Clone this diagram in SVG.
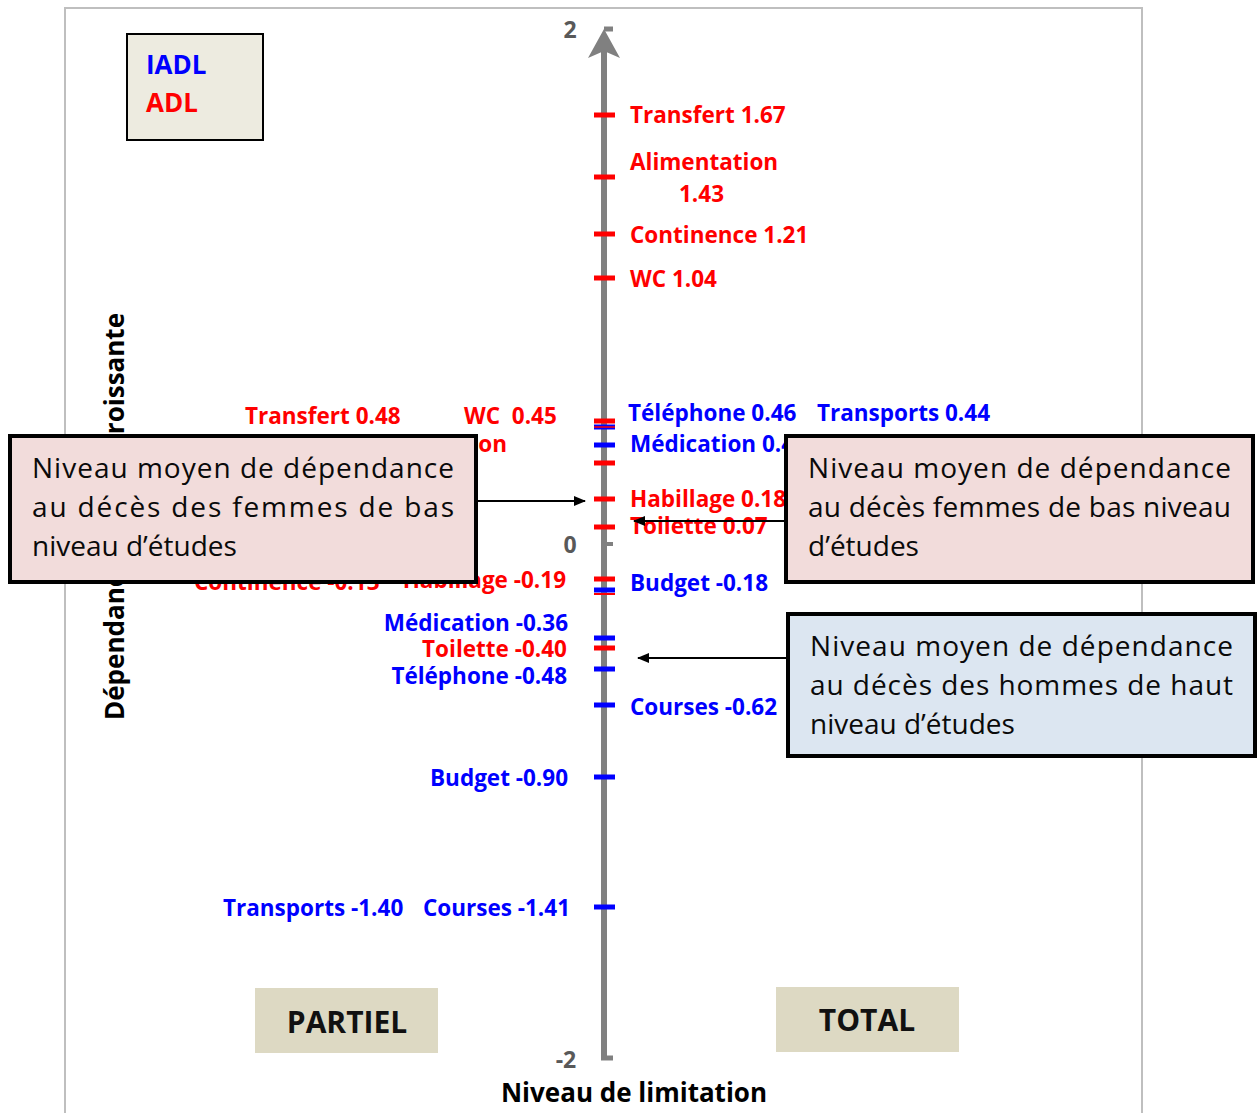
<svg xmlns="http://www.w3.org/2000/svg" width="1259" height="1113" viewBox="0 0 1259 1113">
  <defs>
    <marker id="arrow" viewBox="0 0 12 10" refX="11" refY="5" markerWidth="12" markerHeight="10" markerUnits="userSpaceOnUse" orient="auto">
      <path d="M0,0 L12,5 L0,10 Z" fill="#000"/>
    </marker>
    <style>
      .lbl { font-family: "Open Sans", "Liberation Sans", sans-serif; font-weight: bold; font-size: 22.5px; }
      .leg { font-family: "Open Sans", "Liberation Sans", sans-serif; font-weight: bold; font-size: 26px; }
      .red { fill: #FF0000; }
      .blue { fill: #0000FF; }
      .tr { stroke: #FF0000; stroke-width: 5; }
      .tb { stroke: #0000FF; stroke-width: 5; }
      .axnum { font-family: "Open Sans", "Liberation Sans", sans-serif; font-weight: bold; font-size: 23px; fill: #595959; }
      .title { font-family: "Open Sans", "Liberation Sans", sans-serif; font-weight: bold; font-size: 26px; fill: #000; }
      .note { font-family: "Open Sans", "Liberation Sans", sans-serif; font-size: 28px; fill: #0a0a0a; }
      .notebox { stroke: #000; stroke-width: 4; }
      .tag { font-family: "Open Sans", "Liberation Sans", sans-serif; font-weight: bold; font-size: 30px; fill: #111; text-anchor: middle; }
      .conn { stroke: #000; stroke-width: 2; fill: none; }
    </style>
  </defs>

  <rect width="1259" height="1113" fill="#fff"/>
  <!-- plot frame -->
  <rect x="65" y="8" width="1077" height="1120" fill="none" stroke="#BFBFBF" stroke-width="2"/>

  <!-- vertical axis title (middle part sits under the left note) -->
  <text class="title" transform="translate(124,720) rotate(-90)">Dépendance <tspan x="407" text-anchor="end">croissante</tspan></text>

  <!-- axis -->
  <g id="axis">
    <line x1="604" y1="45" x2="604" y2="1060" stroke="#808080" stroke-width="6"/>
    <path d="M604,29 L620,58 L604,51 L588,58 Z" fill="#808080"/>
    <line x1="604" y1="29" x2="613" y2="29" stroke="#808080" stroke-width="5"/>
    <line x1="604" y1="544" x2="613" y2="544" stroke="#808080" stroke-width="4"/>
    <line x1="601" y1="1058" x2="613" y2="1058" stroke="#808080" stroke-width="5"/>
    <text class="axnum" x="570" y="38" text-anchor="middle">2</text>
    <text class="axnum" x="570" y="553" text-anchor="middle">0</text>
    <text class="axnum" x="566" y="1068" text-anchor="middle">-2</text>
  </g>
  <text class="title" x="634" y="1102" text-anchor="middle">Niveau de limitation</text>

  <!-- ticks on the axis -->
  <g id="ticks">
    <line class="tr" x1="594" y1="115" x2="615" y2="115"/>
    <line class="tr" x1="594" y1="177" x2="615" y2="177"/>
    <line class="tr" x1="594" y1="234" x2="615" y2="234"/>
    <line class="tr" x1="594" y1="278" x2="615" y2="278"/>
    <line class="tr" x1="594" y1="421" x2="615" y2="421"/>
    <line class="tb" x1="594" y1="427" x2="615" y2="427"/>
    <line stroke="#FF0000" stroke-width="1.5" x1="594" y1="427" x2="615" y2="427"/>
    <line class="tb" x1="594" y1="445" x2="615" y2="445"/>
    <line class="tr" x1="594" y1="463" x2="615" y2="463"/>
    <line class="tr" x1="594" y1="499" x2="615" y2="499"/>
    <line class="tr" x1="594" y1="527" x2="615" y2="527"/>
    <line class="tr" x1="594" y1="579" x2="615" y2="579"/>
    <line stroke="#FF0000" stroke-width="2" x1="594" y1="594" x2="615" y2="594"/>
    <line class="tb" x1="594" y1="590" x2="615" y2="590"/>
    <line class="tb" x1="594" y1="638" x2="615" y2="638"/>
    <line class="tr" x1="594" y1="648" x2="615" y2="648"/>
    <line class="tb" x1="594" y1="669" x2="615" y2="669"/>
    <line class="tb" x1="594" y1="705" x2="615" y2="705"/>
    <line class="tb" x1="594" y1="777" x2="615" y2="777"/>
    <line class="tb" x1="594" y1="907" x2="615" y2="907"/>
  </g>

  <!-- item labels -->
  <g id="labels">
    <text class="lbl red" x="630" y="123">Transfert 1.67</text>
    <text class="lbl red" x="630" y="170">Alimentation</text>
    <text class="lbl red" x="679" y="202">1.43</text>
    <text class="lbl red" x="630" y="243">Continence 1.21</text>
    <text class="lbl red" x="630" y="287">WC 1.04</text>

    <text class="lbl red" x="245" y="424">Transfert 0.48</text>
    <text class="lbl red" x="464" y="424" xml:space="preserve">WC  0.45</text>
    <text class="lbl red" x="507" y="452" text-anchor="end">Alimentation</text>
    <text class="lbl blue" x="628" y="421">Téléphone 0.46</text>
    <text class="lbl blue" x="817" y="421">Transports 0.44</text>
    <text class="lbl blue" x="630" y="452">Médication 0.40</text>
    <text class="lbl red" x="630" y="507">Habillage 0.18</text>
    <text class="lbl red" x="630" y="534">Toilette 0.07</text>

    <text class="lbl red" x="194" y="590">Continence -0.13</text>
    <text class="lbl red" x="566" y="588" text-anchor="end">Habillage -0.19</text>
    <text class="lbl blue" x="630" y="591">Budget -0.18</text>
    <text class="lbl blue" x="568" y="631" text-anchor="end">Médication -0.36</text>
    <text class="lbl red" x="567" y="657" text-anchor="end">Toilette -0.40</text>
    <text class="lbl blue" x="567" y="684" text-anchor="end">Téléphone -0.48</text>
    <text class="lbl blue" x="630" y="715">Courses -0.62</text>
    <text class="lbl blue" x="568" y="786" text-anchor="end">Budget -0.90</text>
    <text class="lbl blue" x="223" y="916">Transports -1.40</text>
    <text class="lbl blue" x="570" y="916" text-anchor="end">Courses -1.41</text>
  </g>

  <!-- legend -->
  <g id="legend">
    <rect x="127" y="34" width="136" height="106" fill="#EDEBE0" stroke="#000" stroke-width="2"/>
    <text class="leg blue" x="146" y="74">IADL</text>
    <text class="leg red" x="146" y="112">ADL</text>
  </g>

  <!-- connectors -->
  <g id="connectors">
    <line class="conn" x1="476" y1="501" x2="585" y2="501" marker-end="url(#arrow)"/>
    <line class="conn" x1="786" y1="521" x2="634" y2="521" marker-end="url(#arrow)"/>
    <line class="conn" x1="788" y1="658" x2="638" y2="658" marker-end="url(#arrow)"/>
  </g>

  <!-- note: women, low education (left) -->
  <g id="note-women-left">
    <rect class="notebox" x="10" y="436" width="466" height="146" fill="#F2DCDB"/>
    <text class="note" x="32" y="478" textLength="422" lengthAdjust="spacing">Niveau moyen de dépendance</text>
    <text class="note" x="32" y="517" textLength="422" lengthAdjust="spacing">au décès des femmes de bas</text>
    <text class="note" x="32" y="556">niveau d’études</text>
  </g>

  <!-- note: women, low education (right) -->
  <g id="note-women-right">
    <rect class="notebox" x="786" y="436" width="467" height="146" fill="#F2DCDB"/>
    <text class="note" x="808" y="478" textLength="423" lengthAdjust="spacing">Niveau moyen de dépendance</text>
    <text class="note" x="808" y="517" textLength="423" lengthAdjust="spacing">au décès femmes de bas niveau</text>
    <text class="note" x="808" y="556">d’études</text>
  </g>

  <!-- note: men, high education -->
  <g id="note-men">
    <rect class="notebox" x="788" y="614" width="467" height="142" fill="#DCE6F1"/>
    <text class="note" x="810" y="656" textLength="423" lengthAdjust="spacing">Niveau moyen de dépendance</text>
    <text class="note" x="810" y="695" textLength="423" lengthAdjust="spacing">au décès des hommes de haut</text>
    <text class="note" x="810" y="734">niveau d’études</text>
  </g>

  <!-- category tags -->
  <g id="tag-partiel">
    <rect x="255" y="988" width="183" height="65" fill="#DDD9C3"/>
    <text class="tag" x="347" y="1033">PARTIEL</text>
  </g>
  <g id="tag-total">
    <rect x="776" y="987" width="183" height="65" fill="#DDD9C3"/>
    <text class="tag" x="867" y="1031">TOTAL</text>
  </g>
</svg>
